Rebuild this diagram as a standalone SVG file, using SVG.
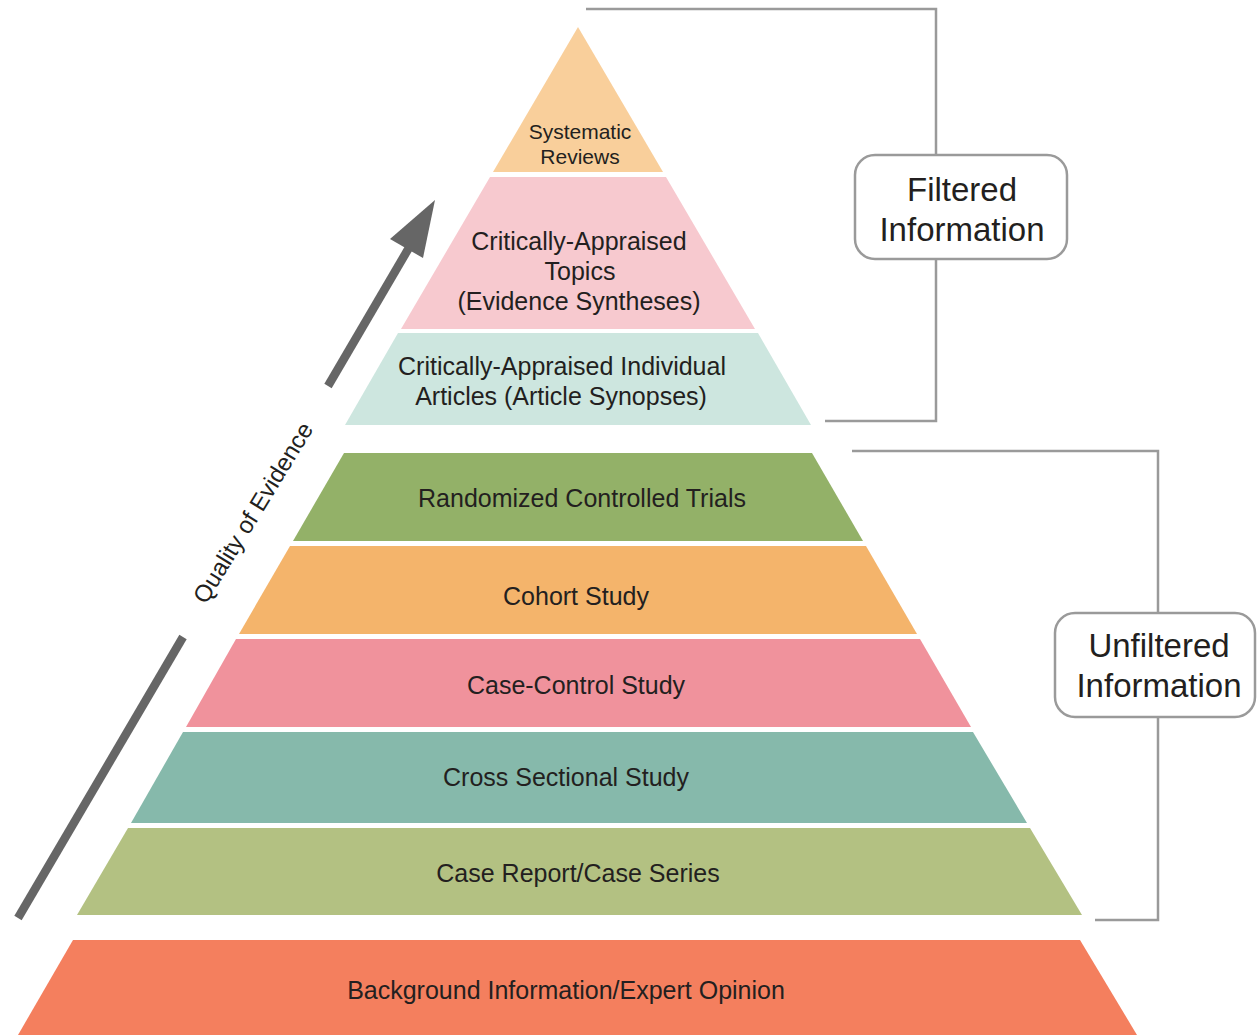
<svg xmlns="http://www.w3.org/2000/svg" width="1257" height="1035" viewBox="0 0 1257 1035">
  <style>
    .lbl { font-family: "Liberation Sans", Arial, sans-serif; fill: #231f20; text-anchor: middle; }
    .band { stroke: none; }
    .bracket { fill: none; stroke: #9a9a9a; stroke-width: 2.5; }
    .box { fill: #ffffff; stroke: #9a9a9a; stroke-width: 2.5; }
    .side { font-size: 33px; }
    .lvl { font-size: 25px; }
  </style>
  <rect width="1257" height="1035" fill="#ffffff"/>

  <!-- brackets grouping the levels -->
  <g id="connectors">
    <polyline class="bracket" points="586,9 936,9 936,421 825,421"/>
    <polyline class="bracket" points="852,451 1158,451 1158,920 1095,920"/>
  </g>

  <!-- filtered evidence (upper pyramid) -->
  <g id="systematic-reviews">
    <polygon class="band" fill="#f9cf9b" points="578,27 663,172 493,172"/>
    <text class="lbl" font-size="21" x="580" y="139">Systematic</text>
    <text class="lbl" font-size="21" x="580" y="164">Reviews</text>
  </g>
  <g id="critically-appraised-topics">
    <polygon class="band" fill="#f7c9cf" points="490,177 666,177 755,329 401,329"/>
    <text class="lbl lvl" x="579" y="250">Critically-Appraised</text>
    <text class="lbl lvl" x="580" y="280">Topics</text>
    <text class="lbl lvl" x="579" y="310">(Evidence Syntheses)</text>
  </g>
  <g id="critically-appraised-articles">
    <polygon class="band" fill="#cde6df" points="398,333 758,333 811,425 345,425"/>
    <text class="lbl lvl" x="562" y="375">Critically-Appraised Individual</text>
    <text class="lbl lvl" x="561" y="405">Articles (Article Synopses)</text>
  </g>

  <!-- unfiltered evidence (lower pyramid) -->
  <g id="randomized-controlled-trials">
    <polygon class="band" fill="#93b168" points="344,453 812,453 863,541 293,541"/>
    <text class="lbl lvl" x="582" y="507">Randomized Controlled Trials</text>
  </g>
  <g id="cohort-study">
    <polygon class="band" fill="#f4b46b" points="290,546 866,546 917,634 239,634"/>
    <text class="lbl lvl" x="576" y="605">Cohort Study</text>
  </g>
  <g id="case-control-study">
    <polygon class="band" fill="#f0929c" points="236,639 920,639 971,727 186,727"/>
    <text class="lbl lvl" x="576" y="694">Case-Control Study</text>
  </g>
  <g id="cross-sectional-study">
    <polygon class="band" fill="#86b9ab" points="183,732 973,732 1027,823 131,823"/>
    <text class="lbl lvl" x="566" y="786">Cross Sectional Study</text>
  </g>
  <g id="case-report">
    <polygon class="band" fill="#b3c182" points="128,828 1030,828 1082,915 77,915"/>
    <text class="lbl lvl" x="578" y="882">Case Report/Case Series</text>
  </g>
  <g id="background-information">
    <polygon class="band" fill="#f47f5e" points="73,940 1080,940 1137,1035 18,1035"/>
    <text class="lbl" font-size="25" x="566" y="999">Background Information/Expert Opinion</text>
  </g>

  <!-- side labels -->
  <g id="filtered-information">
    <rect class="box" x="855" y="155" width="212" height="104" rx="20" ry="20"/>
    <text class="lbl side" x="962" y="201">Filtered</text>
    <text class="lbl side" x="962" y="241">Information</text>
  </g>
  <g id="unfiltered-information">
    <rect class="box" x="1055" y="613" width="200" height="104" rx="20" ry="20"/>
    <text class="lbl side" x="1159" y="657">Unfiltered</text>
    <text class="lbl side" x="1159" y="697">Information</text>
  </g>

  <!-- quality axis -->
  <g id="quality-of-evidence">
    <line x1="18" y1="918" x2="183" y2="637" stroke="#666666" stroke-width="8.5"/>
    <line x1="328" y1="386" x2="410" y2="246" stroke="#666666" stroke-width="8.5"/>
    <polygon fill="#666666" points="435,200 423,258 390,239"/>
    <text class="lbl" font-size="24" transform="translate(260,517) rotate(-58.5)">Quality of Evidence</text>
  </g>
</svg>
